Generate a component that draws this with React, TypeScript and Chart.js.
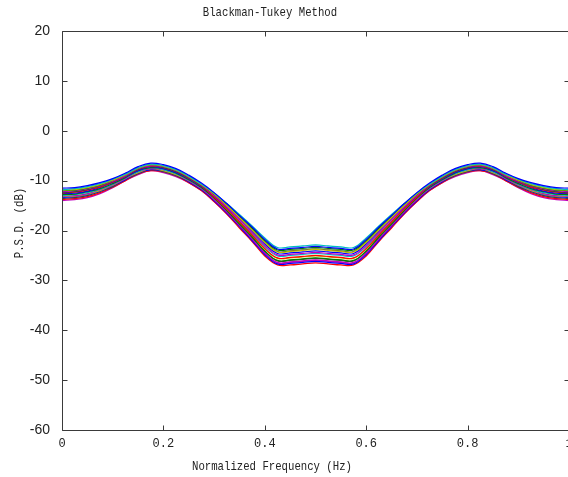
import React, { useEffect, useRef } from "react";
import { Chart, registerables } from "chart.js";

Chart.register(...registerables);

// Normalized frequency sample positions
const xs = [
  0, 0.025, 0.05, 0.075, 0.1, 0.125, 0.15, 0.175, 0.2, 0.225, 0.25, 0.275, 0.3, 0.325, 0.35, 0.375,
  0.4, 0.425, 0.45, 0.475, 0.5, 0.525, 0.55, 0.575, 0.6,
  0.625, 0.65, 0.675, 0.7, 0.725, 0.75, 0.775, 0.8, 0.825, 0.85, 0.875, 0.9, 0.925, 0.95, 0.975, 1,
];

// P.S.D. (dB) realizations
const s01 = [-11.5, -11.4, -11.0, -10.4, -9.6, -8.5, -7.2, -6.5, -6.8, -7.6, -8.9, -10.5, -12.4, -14.6, -17.0, -19.3, -21.8, -23.7, -23.6, -23.4, -23.2, -23.4, -23.6, -23.7, -21.8, -19.3, -17.0, -14.6, -12.4, -10.5, -8.9, -7.6, -6.8, -6.5, -7.2, -8.5, -9.6, -10.4, -11.0, -11.4, -11.5];
const s02 = [-11.8, -11.6, -11.2, -10.6, -9.7, -8.7, -7.4, -6.7, -7.0, -7.8, -9.1, -10.7, -12.5, -14.6, -16.8, -19.1, -21.5, -23.4, -23.3, -23.1, -22.9, -23.1, -23.3, -23.4, -21.5, -19.1, -16.8, -14.6, -12.5, -10.7, -9.1, -7.8, -7.0, -6.7, -7.4, -8.7, -9.7, -10.6, -11.2, -11.6, -11.8];
const s03 = [-11.9, -11.8, -11.4, -10.8, -9.9, -8.8, -7.5, -6.8, -7.1, -7.9, -9.2, -10.8, -12.7, -15.0, -17.4, -19.9, -22.4, -24.3, -24.2, -24.0, -23.8, -24.0, -24.2, -24.3, -22.4, -19.9, -17.4, -15.0, -12.7, -10.8, -9.2, -7.9, -7.1, -6.8, -7.5, -8.8, -9.9, -10.8, -11.4, -11.8, -11.9];
const s04 = [-12.0, -11.9, -11.5, -10.9, -9.9, -8.8, -7.5, -6.8, -7.1, -7.9, -9.2, -10.8, -12.7, -14.8, -17.2, -19.5, -22.0, -23.9, -23.8, -23.6, -23.4, -23.6, -23.8, -23.9, -22.0, -19.5, -17.2, -14.8, -12.7, -10.8, -9.2, -7.9, -7.1, -6.8, -7.5, -8.8, -9.9, -10.9, -11.5, -11.9, -12.0];
const s05 = [-12.2, -12.0, -11.6, -11.0, -10.1, -9.0, -7.6, -7.0, -7.2, -8.0, -9.3, -10.9, -13.0, -15.3, -17.8, -20.4, -23.0, -24.9, -24.8, -24.6, -24.4, -24.6, -24.8, -24.9, -23.0, -20.4, -17.8, -15.3, -13.0, -10.9, -9.3, -8.0, -7.2, -7.0, -7.6, -9.0, -10.1, -11.0, -11.6, -12.0, -12.2];
const s06 = [-12.4, -12.2, -11.8, -11.1, -10.2, -9.0, -7.8, -7.0, -7.4, -8.2, -9.4, -11.0, -12.9, -15.1, -17.5, -19.8, -22.3, -24.2, -24.1, -23.9, -23.7, -23.9, -24.1, -24.2, -22.3, -19.8, -17.5, -15.1, -12.9, -11.0, -9.4, -8.2, -7.4, -7.0, -7.8, -9.0, -10.2, -11.1, -11.8, -12.2, -12.4];
const s07 = [-12.5, -12.3, -11.9, -11.3, -10.3, -9.1, -7.8, -7.1, -7.4, -8.2, -9.5, -11.1, -13.3, -15.7, -18.3, -20.9, -23.6, -25.5, -25.4, -25.2, -25.0, -25.2, -25.4, -25.5, -23.6, -20.9, -18.3, -15.7, -13.3, -11.1, -9.5, -8.2, -7.4, -7.1, -7.8, -9.1, -10.3, -11.3, -11.9, -12.3, -12.5];
const s08 = [-12.6, -12.5, -12.1, -11.4, -10.4, -9.2, -8.0, -7.2, -7.6, -8.4, -9.6, -11.2, -13.2, -15.4, -17.8, -20.2, -22.7, -24.6, -24.5, -24.3, -24.1, -24.3, -24.5, -24.6, -22.7, -20.2, -17.8, -15.4, -13.2, -11.2, -9.6, -8.4, -7.6, -7.2, -8.0, -9.2, -10.4, -11.4, -12.1, -12.5, -12.6];
const s09 = [-12.8, -12.7, -12.2, -11.6, -10.6, -9.4, -8.0, -7.4, -7.6, -8.5, -9.8, -11.4, -13.5, -16.0, -18.7, -21.3, -24.1, -26.0, -25.9, -25.7, -25.5, -25.7, -25.9, -26.0, -24.1, -21.3, -18.7, -16.0, -13.5, -11.4, -9.8, -8.5, -7.6, -7.4, -8.0, -9.4, -10.6, -11.6, -12.2, -12.7, -12.8];
const s10 = [-13.0, -12.8, -12.4, -11.7, -10.7, -9.4, -8.2, -7.4, -7.8, -8.6, -9.8, -11.4, -13.4, -15.7, -18.2, -20.6, -23.2, -25.1, -25.0, -24.8, -24.6, -24.8, -25.0, -25.1, -23.2, -20.6, -18.2, -15.7, -13.4, -11.4, -9.8, -8.6, -7.8, -7.4, -8.2, -9.4, -10.7, -11.7, -12.4, -12.8, -13.0];
const s11 = [-13.1, -13.0, -12.6, -11.8, -10.8, -9.6, -8.2, -7.6, -7.8, -8.6, -10.0, -11.6, -13.8, -16.3, -19.0, -21.7, -24.5, -26.4, -26.3, -26.1, -25.9, -26.1, -26.3, -26.4, -24.5, -21.7, -19.0, -16.3, -13.8, -11.6, -10.0, -8.6, -7.8, -7.6, -8.2, -9.6, -10.8, -11.8, -12.6, -13.0, -13.1];
const s12 = [-13.2, -13.1, -12.7, -12.0, -10.9, -9.6, -8.4, -7.6, -8.0, -8.8, -10.0, -11.6, -13.7, -16.0, -18.5, -21.1, -23.7, -25.6, -25.5, -25.3, -25.1, -25.3, -25.5, -25.6, -23.7, -21.1, -18.5, -16.0, -13.7, -11.6, -10.0, -8.8, -8.0, -7.6, -8.4, -9.6, -10.9, -12.0, -12.7, -13.1, -13.2];
const s13 = [-13.4, -13.2, -12.8, -12.1, -11.0, -9.8, -8.4, -7.8, -8.0, -8.8, -10.2, -11.8, -14.0, -16.5, -19.2, -22.0, -24.8, -26.7, -26.6, -26.4, -26.2, -26.4, -26.6, -26.7, -24.8, -22.0, -19.2, -16.5, -14.0, -11.8, -10.2, -8.8, -8.0, -7.8, -8.4, -9.8, -11.0, -12.1, -12.8, -13.2, -13.4];
const s14 = [-13.6, -13.4, -13.0, -12.2, -11.2, -9.8, -8.6, -7.8, -8.2, -9.0, -10.2, -11.8, -13.9, -16.3, -18.9, -21.5, -24.2, -26.1, -26.0, -25.8, -25.6, -25.8, -26.0, -26.1, -24.2, -21.5, -18.9, -16.3, -13.9, -11.8, -10.2, -9.0, -8.2, -7.8, -8.6, -9.8, -11.2, -12.2, -13.0, -13.4, -13.6];
const s15 = [-13.8, -13.6, -13.2, -12.4, -11.3, -10.0, -8.6, -8.0, -8.2, -9.0, -10.4, -12.0, -14.2, -16.7, -19.5, -22.2, -25.1, -26.9, -26.9, -26.7, -26.5, -26.7, -26.9, -26.9, -25.1, -22.2, -19.5, -16.7, -14.2, -12.0, -10.4, -9.0, -8.2, -8.0, -8.6, -10.0, -11.3, -12.4, -13.2, -13.6, -13.8];
const s16 = [-14.0, -13.8, -13.4, -12.6, -11.4, -10.0, -8.8, -8.0, -8.4, -9.2, -10.4, -12.0, -14.2, -16.6, -19.2, -21.9, -24.6, -26.5, -26.4, -26.2, -26.0, -26.2, -26.4, -26.5, -24.6, -21.9, -19.2, -16.6, -14.2, -12.0, -10.4, -9.2, -8.4, -8.0, -8.8, -10.0, -11.4, -12.6, -13.4, -13.8, -14.0];

const seriesList = [s01, s02, s03, s04, s05, s06, s07, s08, s09, s10, s11, s12, s13, s14, s15, s16];
const seriesColors = [
  "#0000ff", "#00bfbf", "#bfbf00", "#008000", "#bf00bf", "#404040", "#ff0000", "#0000ff",
  "#008000", "#00bfbf", "#bf00bf", "#bfbf00", "#0000ff", "#404040", "#ff0000", "#bf00bf",
];

const xTicks = [0, 0.2, 0.4, 0.6, 0.8, 1];
const xTickLabels = ["0", "0.2", "0.4", "0.6", "0.8", "1"];
const yTicks = [-60, -50, -40, -30, -20, -10, 0, 10, 20];

const titleText = "Blackman-Tukey Method";
const xTitle = "Normalized Frequency (Hz)";
const yTitle = "P.S.D. (dB)";

const framePlugin = {
  id: "frame",
  afterDraw(chart: any) {
    const { ctx, chartArea: a, scales } = chart;
    ctx.save();
    ctx.strokeStyle = "#3a3a3a";
    ctx.lineWidth = 1;
    const L = Math.round(a.left) + 0.5;
    const T = Math.round(a.top) + 0.5;
    const R = Math.round(a.right) + 0.5;
    const B = Math.round(a.bottom) + 0.5;
    ctx.beginPath();
    ctx.moveTo(L, T);
    ctx.lineTo(R, T);
    ctx.lineTo(R, B);
    ctx.lineTo(L, B);
    ctx.closePath();
    const tl = 5;
    scales.x.ticks.forEach((t: any) => {
      const px = Math.round(scales.x.getPixelForValue(t.value)) + 0.5;
      ctx.moveTo(px, B);
      ctx.lineTo(px, B - tl);
      ctx.moveTo(px, T);
      ctx.lineTo(px, T + tl);
    });
    scales.y.ticks.forEach((t: any) => {
      const py = Math.round(scales.y.getPixelForValue(t.value)) + 0.5;
      ctx.moveTo(L, py);
      ctx.lineTo(L + tl, py);
      ctx.moveTo(R, py);
      ctx.lineTo(R - tl, py);
    });
    ctx.stroke();
    ctx.restore();
  },
};

export default function App() {
  const canvasRef = useRef<HTMLCanvasElement | null>(null);

  useEffect(() => {
    const canvas = canvasRef.current;
    if (!canvas) return;
    const chart = new Chart(canvas, {
      type: "line",
      data: {
        datasets: seriesList.map((s, k) => ({
          data: xs.map((x, i) => ({ x, y: s[i] })),
          borderColor: seriesColors[k],
          borderWidth: 1.2,
          pointRadius: 0,
          fill: false,
          tension: 0.4,
        })),
      },
      options: {
        animation: false,
        responsive: false,
        layout: { padding: { top: 31, right: 6, left: 0, bottom: 0 } },
        plugins: {
          legend: { display: false },
          tooltip: { enabled: false },
          title: { display: false },
        },
        scales: {
          x: {
            type: "linear",
            min: 0,
            max: 1,
            afterBuildTicks: (scale: any) => {
              scale.ticks = xTicks.map((v) => ({ value: v }));
            },
            afterFit: (scale: any) => {
              scale.height = 47;
              scale.paddingLeft = 0;
              scale.paddingRight = 0;
            },
            ticks: {
              autoSkip: false,
              maxRotation: 0,
              padding: 7,
              color: "#222",
              font: { family: "'Liberation Mono', monospace", size: 12 },
              callback: (value: any) => {
                const i = xTicks.findIndex((t) => Math.abs(t - Number(value)) < 1e-9);
                return i >= 0 ? xTickLabels[i] : "";
              },
            },
            grid: { display: false, drawTicks: false },
            border: { display: false },
          },
          y: {
            type: "linear",
            min: -60,
            max: 20,
            afterBuildTicks: (scale: any) => {
              scale.ticks = yTicks.map((v) => ({ value: v }));
            },
            afterFit: (scale: any) => {
              scale.width = 62;
              scale.paddingTop = 0;
              scale.paddingBottom = 0;
            },
            ticks: {
              autoSkip: false,
              padding: 12,
              color: "#222",
              font: { family: "'Liberation Sans', Arial, sans-serif", size: 14 },
            },
            grid: { display: false, drawTicks: false },
            border: { display: false },
          },
        },
      },
      plugins: [framePlugin],
    });
    return () => chart.destroy();
  }, []);

  const textStyle: React.CSSProperties = {
    position: "absolute",
    fontFamily: "'Liberation Mono', monospace",
    fontSize: 13,
    lineHeight: "14px",
    color: "#222",
    whiteSpace: "nowrap",
    textAlign: "center",
  };

  return (
    <div
      style={{
        position: "fixed",
        left: 0,
        top: 0,
        width: 568,
        height: 477,
        overflow: "hidden",
        background: "#fff",
      }}
    >
      <canvas ref={canvasRef} width={575} height={477} style={{ position: "absolute", left: 0, top: 0, display: "block" }} />
      <div style={{ ...textStyle, left: 170, top: 6, width: 200, transform: "scaleX(0.82)" }}>{titleText}</div>
      <div style={{ ...textStyle, left: 122, top: 460, width: 300, transform: "scaleX(0.82)" }}>{xTitle}</div>
      <div
        style={{
          ...textStyle,
          left: 20 - 100,
          top: 223 - 7,
          width: 200,
          transform: "rotate(-90deg) scaleX(0.82)",
        }}
      >
        {yTitle}
      </div>
    </div>
  );
}
